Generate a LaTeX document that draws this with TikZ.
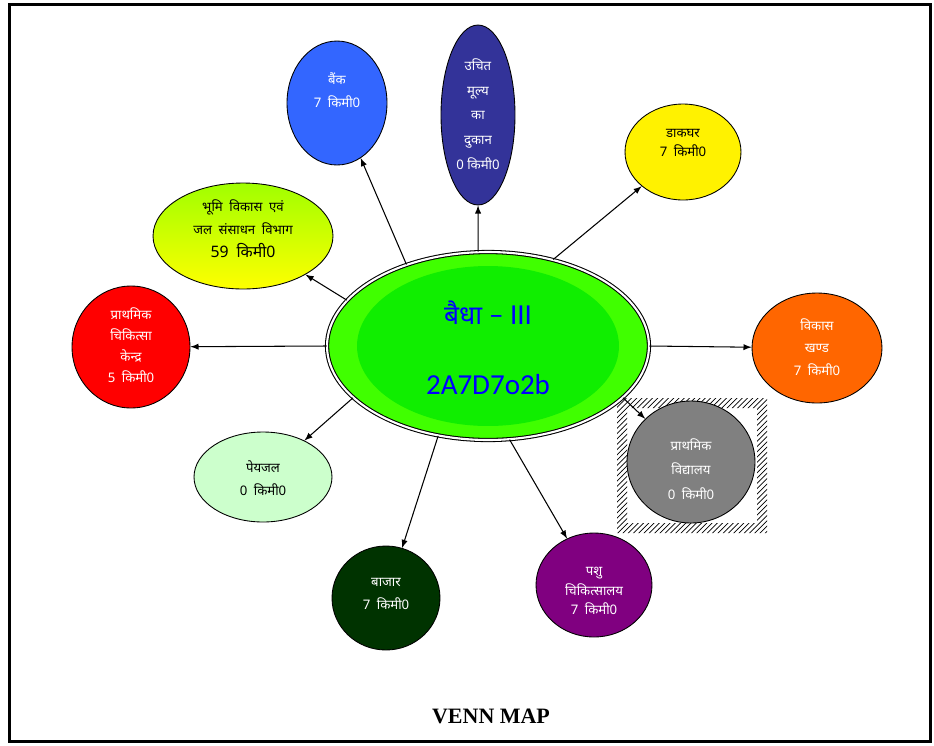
\documentclass[tikz,border=0pt]{standalone}
\usepackage{fontspec}
\setmainfont{Noto Sans}[Script=Devanagari]
\newfontfamily\latinfont{Carlito}
\newfontfamily\mapfont{Liberation Serif}
\usetikzlibrary{arrows,shapes.geometric,patterns}
\definecolor{bankblue}{RGB}{51,102,255}
\definecolor{rationblue}{RGB}{51,51,153}
\definecolor{landgreen}{RGB}{160,255,0}
\definecolor{hubring}{RGB}{64,255,0}
\definecolor{hubcore}{RGB}{16,238,0}
\definecolor{blockorange}{RGB}{255,102,0}
\definecolor{watergreen}{RGB}{204,255,204}
\definecolor{marketgreen}{RGB}{0,51,0}
\definecolor{vetpurple}{RGB}{128,0,128}
\definecolor{schoolgray}{RGB}{128,128,128}
\tikzset{
  spot/.style={ellipse,draw=black,line width=0.5pt,inner sep=0pt},
  tag/.style={align=center,font=\fontsize{7.5}{13}\selectfont}
}

\begin{document}
\begin{tikzpicture}[x=0.02cm,y=-0.02cm]
\useasboundingbox (0,0) rectangle (934,745);
\draw[line width=1.7pt] (9.5,4.5) rectangle (930,741.5);
\fill[pattern=north east lines,even odd rule] (617,398) rectangle (767,533) (627,408) rectangle (757,523);

\node[spot,draw=black,line width=0.6pt,double=white,double distance=1.2pt,fill=hubring,minimum width=6.44cm,minimum height=3.76cm,
  path picture={\fill[hubcore] (path picture bounding box.center) ellipse [x radius=2.62cm,y radius=1.6cm];}] (hub) at (488,346) {};
\node[align=center,text=blue,font=\fontsize{15}{40}\selectfont] (hub-t) at (488,348) {{\bfseries बैधा}~{\latinfont\fontsize{16.5}{40}\selectfont– III}\\{\latinfont\fontsize{16.5}{40}\selectfont 2A7D7o2b}};

\node[spot,fill=bankblue,minimum width=2cm,minimum height=2.48cm] (bank) at (337,103) {};
\node[tag,text=white] (bank-t) at (337,90) {बैंक\\7\enskip किमी0};

\node[spot,fill=rationblue,minimum width=1.48cm,minimum height=3.6cm] (ration) at (478,115) {};
\node[tag,text=white,font=\fontsize{7.5}{14}\selectfont] (ration-t) at (478,114) {उचित\\मूल्य\\का\\दुकान\\0 किमी0};

\node[spot,fill=yellow,minimum width=2.32cm,minimum height=1.92cm] (post) at (683,152) {};
\node[tag,font=\fontsize{7.5}{11}\selectfont] (post-t) at (683,143) {डाकघर\\7\enskip किमी0};

\node[spot,top color=landgreen,bottom color=yellow,minimum width=3.6cm,minimum height=2.12cm] (land) at (243,236) {};
\node[tag] (land-t) at (243,229) {भूमि\enskip विकास\enskip एवं\\जल\enskip संसाधन\enskip विभाग\\{\fontsize{9}{12}\selectfont 59\enskip किमी0}};

\node[spot,fill=red,minimum width=2.36cm,minimum height=2.44cm] (clinic) at (131,347) {};
\node[tag,text=white,font=\fontsize{7.5}{12}\selectfont] (clinic-t) at (131,345) {प्राथमिक\\चिकित्सा\\केन्द्र\\5\enskip किमी0};

\node[spot,fill=blockorange,minimum width=2.6cm,minimum height=2.2cm] (block) at (817,348) {};
\node[tag,text=white] (block-t) at (817,347) {विकास\\खण्ड\\7\enskip किमी0};

\node[spot,fill=schoolgray,minimum width=2.56cm,minimum height=2.44cm] (school) at (691,462) {};
\node[tag,text=white,font=\fontsize{7.5}{14}\selectfont] (school-t) at (691,469) {प्राथमिक\\विद्यालय\\0\enskip किमी0};

\node[spot,fill=watergreen,minimum width=2.76cm,minimum height=1.8cm] (water) at (263,477) {};
\node[tag] (water-t) at (263,478) {पेयजल\\0\enskip किमी0};

\node[spot,fill=marketgreen,minimum width=2.16cm,minimum height=2.08cm] (market) at (386,598) {};
\node[tag,text=white] (market-t) at (386,594) {बाजार\\7\enskip किमी0};

\node[spot,fill=vetpurple,minimum width=2.32cm,minimum height=2.08cm] (vet) at (594,585) {};
\node[tag,text=white,font=\fontsize{7.5}{11}\selectfont] (vet-t) at (594,591) {पशु\\चिकित्सालय\\7\enskip किमी0};

\draw[-latex,line width=0.6pt] (hub.135) -- (bank);
\draw[-latex,line width=0.6pt] (hub.96) -- (ration);
\draw[-latex,line width=0.6pt] (hub.53) -- (post);
\draw[-latex,line width=0.6pt] (hub.162) -- (land);
\draw[-latex,line width=0.6pt] (hub.180) -- (clinic);
\draw[-latex,line width=0.6pt] (hub.0) -- (block);
\draw[-latex,line width=0.6pt] (hub.-21) -- (school);
\draw[-latex,line width=0.6pt] (hub.201) -- (water);
\draw[-latex,line width=0.6pt] (hub.241) -- (market);
\draw[-latex,line width=0.6pt] (hub.-77) -- (vet);

\node[font=\mapfont\bfseries\fontsize{12.5}{14}\selectfont] (title) at (491,716) {VENN MAP};
\end{tikzpicture}
\end{document}
